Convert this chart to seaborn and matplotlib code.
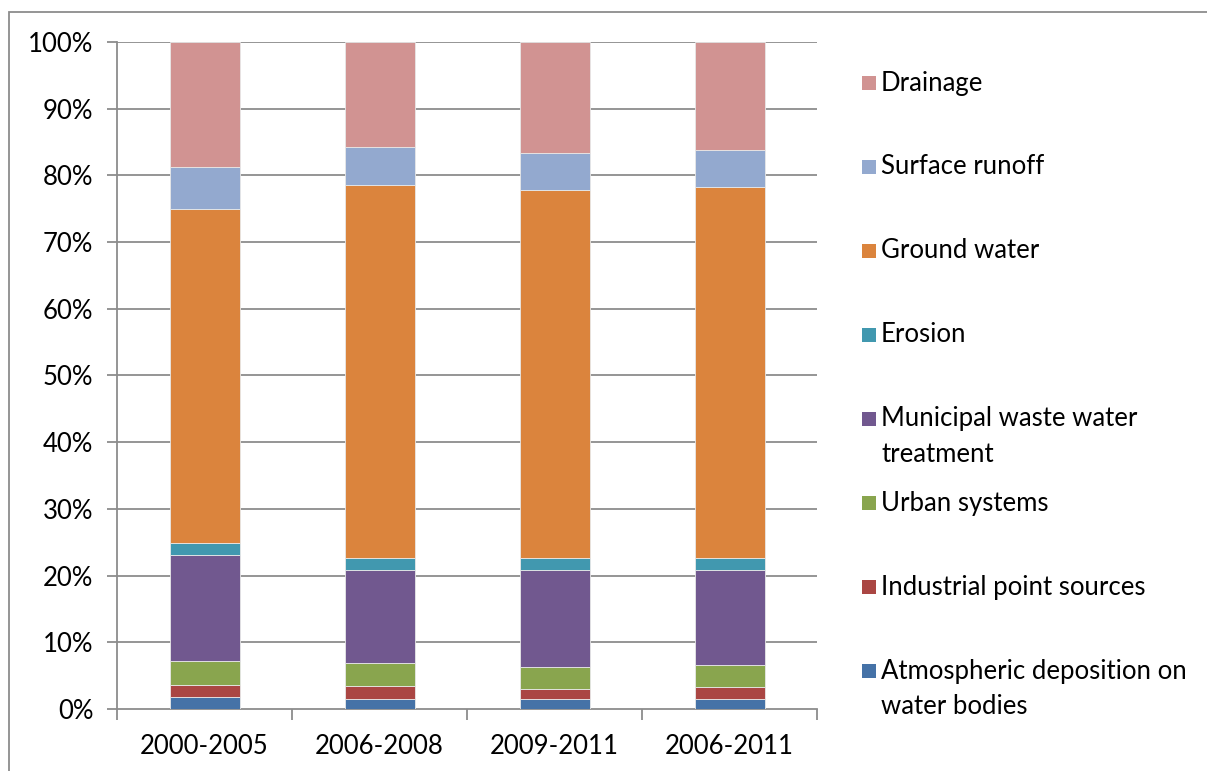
import numpy as np
import pandas as pd
import matplotlib
matplotlib.use("Agg")
import matplotlib.pyplot as plt
from matplotlib.patches import Rectangle
import seaborn as sns

periods = ["2000-2005", "2006-2008", "2009-2011", "2006-2011"]

atmospheric = [1.8, 1.55, 1.55, 1.55]
industrial = [1.75, 1.95, 1.5, 1.75]
urban = [3.65, 3.4, 3.25, 3.3]
municipal = [15.9, 13.9, 14.6, 14.3]
erosion = [1.8, 1.8, 1.8, 1.7]
ground_water = [50.0, 56.0, 55.1, 55.6]
surface_runoff = [6.3, 5.6, 5.5, 5.6]
drainage = [18.8, 15.8, 16.7, 16.2]

series_names = [
    "Atmospheric deposition on\nwater bodies",
    "Industrial point sources",
    "Urban systems",
    "Municipal waste water\ntreatment",
    "Erosion",
    "Ground water",
    "Surface runoff",
    "Drainage",
]
series_values = [atmospheric, industrial, urban, municipal, erosion,
                 ground_water, surface_runoff, drainage]
colors = ["#4572A7", "#AA4643", "#89A54E", "#71588F", "#4198AF",
          "#DB843D", "#93A9CF", "#D19392"]

sns.set_style("white")
plt.rcParams["font.family"] = ["Lato", "DejaVu Sans"]
FS = 18.5

W, H = 1207, 771
fig = plt.figure(figsize=(W / 100, H / 100), dpi=100)
ax = fig.add_axes([117 / W, 1 - 709 / H, 700 / W, 667 / H])

# stacked bars, normalised to 100 %
totals = np.sum(np.array(series_values), axis=0)
bottom = np.zeros(len(periods))
for name, vals, col in zip(series_names, series_values, colors):
    share = np.array(vals) / totals * 100
    df = pd.DataFrame({"period": periods, "share": share})
    sns.barplot(data=df, x="period", y="share", color=col, width=0.4,
                bottom=bottom, ax=ax, edgecolor="#e8e8e8", linewidth=0.6,
                saturation=1, zorder=3)
    bottom = bottom + share

grid_col = "#8c8c8c"
ax.set_ylim(0, 100)
ax.set_xlim(-0.5, 3.5)
ax.set_yticks(np.arange(0, 101, 10))
ax.set_yticklabels([f"{v}%" for v in range(0, 101, 10)], fontsize=FS,
                   color="black")
ax.set_xticks(range(4))
ax.set_xticklabels(periods, fontsize=FS, color="black")
ax.set_xlabel("")
ax.set_ylabel("")
for v in range(10, 101, 10):
    ax.axhline(v, color=grid_col, lw=1.3, zorder=1)

for side in ["top", "right"]:
    ax.spines[side].set_visible(False)
for side in ["left", "bottom"]:
    ax.spines[side].set_color(grid_col)
    ax.spines[side].set_linewidth(1.3)

ax.tick_params(axis="y", length=7, width=1.3, color=grid_col, pad=10,
               left=True, direction="out")
ax.tick_params(axis="x", length=0, pad=18)
# category boundary ticks on the x axis
ax.set_xticks([-0.5, 0.5, 1.5, 2.5, 3.5], minor=True)
ax.tick_params(axis="x", which="minor", length=8, width=1.3,
               color=grid_col, bottom=True, direction="out")

# legend drawn at the right of the plot area
entry_y = [83, 167, 251, 335, 419, 503, 587, 671]
for name, col, y in zip(series_names[::-1], colors[::-1], entry_y):
    fig.patches.append(Rectangle((862 / W, 1 - (y + 7) / H), 14 / W, 14 / H,
                                 transform=fig.transFigure, facecolor=col,
                                 edgecolor="none"))
    for k, line in enumerate(name.split("\n")):
        fig.text(881 / W, 1 - (y + 35 * k) / H, line, fontsize=FS,
                 va="center", ha="left", color="black")

# chart border
fig.patches.append(Rectangle((9 / W, -0.1), 1.2, 1 - 12 / H + 0.1,
                             transform=fig.transFigure, fill=False,
                             edgecolor="#8c8c8c", linewidth=1.3))

fig.savefig("out.png", dpi=100)
